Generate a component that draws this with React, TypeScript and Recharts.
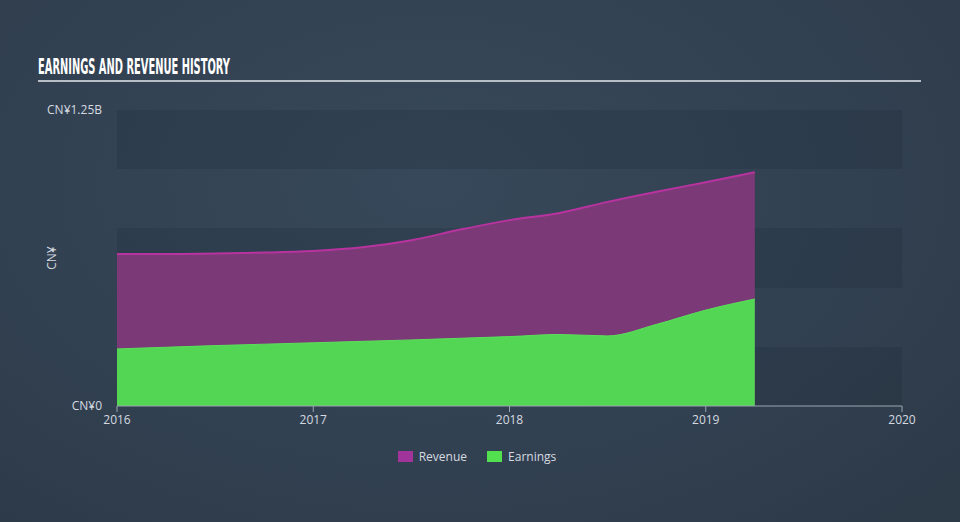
import React from "react";
import { Area, AreaChart, CartesianGrid, XAxis, YAxis } from "recharts";

// decimal years, quarterly
const periods = [2016, 2016.25, 2016.5, 2016.75, 2017, 2017.25, 2017.5, 2017.75, 2018, 2018.25, 2018.5, 2018.75, 2019, 2019.25];
// CN¥ billions
const revenue = [0.642, 0.642, 0.644, 0.648, 0.655, 0.67, 0.7, 0.745, 0.785, 0.814, 0.862, 0.905, 0.945, 0.987];
const earnings = [0.241, 0.248, 0.255, 0.261, 0.267, 0.273, 0.279, 0.286, 0.293, 0.302, 0.296, 0.345, 0.405, 0.452];

const yearTicks = [2016, 2017, 2018, 2019, 2020];
const valueTicks = [0, 0.25, 0.5, 0.75, 1, 1.25];

const legendItems = [
  { label: "Revenue", color: "#a0349a" },
  { label: "Earnings", color: "#52e04f" },
];

const chartData = periods.map((t, i) => ({ t, revenue: revenue[i], earnings: earnings[i] }));

const fontFamily = "'Open Sans', Roboto, sans-serif";

function formatValue(value: number) {
  if (value === 0) return "CN¥0";
  if (value === 1.25) return "CN¥1.25B";
  return "";
}

function ChartLegend() {
  return (
    <div
      style={{
        position: "absolute",
        left: 0,
        top: 448,
        width: 954,
        display: "flex",
        justifyContent: "center",
        gap: 20,
        fontFamily,
        fontSize: 12,
        color: "#d5dae0",
      }}
    >
      {legendItems.map((item) => (
        <div key={item.label} style={{ display: "flex", alignItems: "center", gap: 6 }}>
          <span style={{ width: 15, height: 11, background: item.color, display: "inline-block" }} />
          <span>{item.label}</span>
        </div>
      ))}
    </div>
  );
}

export default function App() {
  return (
    <div
      style={{
        position: "absolute",
        left: 0,
        top: 0,
        width: 960,
        height: 522,
        background: "radial-gradient(ellipse at 45% 35%, #37485a 0%, #324151 55%, #2c3947 100%)",
        overflow: "hidden",
      }}
    >
      <svg width={960} height={90} style={{ position: "absolute", left: 0, top: 0 }}>
        <text
          x={38}
          y={74}
          fill="#ffffff"
          fontFamily="'DejaVu Sans Condensed', 'DejaVu Sans', sans-serif"
          fontWeight="bold"
          fontSize={22}
          textLength={192}
          lengthAdjust="spacingAndGlyphs"
        >
          EARNINGS AND REVENUE HISTORY
        </text>
        <line x1={38} x2={921} y1={81} y2={81} stroke="#b8bec5" strokeWidth={2} />
      </svg>
      <div style={{ position: "absolute", left: 0, top: 0 }}>
        <AreaChart width={960} height={522} data={chartData} margin={{ top: 110, right: 58, bottom: 86, left: 0 }}>
          <CartesianGrid
            vertical={false}
            stroke="transparent"
            horizontalFill={["rgba(20,30,42,0.16)", "rgba(255,255,255,0)"]}
          />
          <XAxis
            dataKey="t"
            type="number"
            domain={[2016, 2020]}
            ticks={yearTicks}
            stroke="#9aa5b1"
            tickSize={6}
            tickMargin={3}
            tick={{ fill: "#d5dae0", fontSize: 12, fontFamily }}
          />
          <YAxis
            type="number"
            domain={[0, 1.25]}
            ticks={valueTicks}
            width={117}
            axisLine={false}
            tickLine={false}
            tickMargin={9}
            tickFormatter={formatValue}
            tick={{ fill: "#d5dae0", fontSize: 12, fontFamily }}
            label={{ value: "CN¥", angle: -90, position: "center", dx: -7, fill: "#d5dae0", fontSize: 12, fontFamily }}
          />
          <Area
            type="monotone"
            dataKey="revenue"
            stroke="#b8339f"
            strokeWidth={2}
            fill="#7b3a77"
            fillOpacity={1}
            isAnimationActive={false}
          />
          <Area
            type="monotone"
            dataKey="earnings"
            stroke="#5be05a"
            strokeWidth={1}
            fill="#52d654"
            fillOpacity={1}
            isAnimationActive={false}
          />
        </AreaChart>
      </div>
      <ChartLegend />
    </div>
  );
}
